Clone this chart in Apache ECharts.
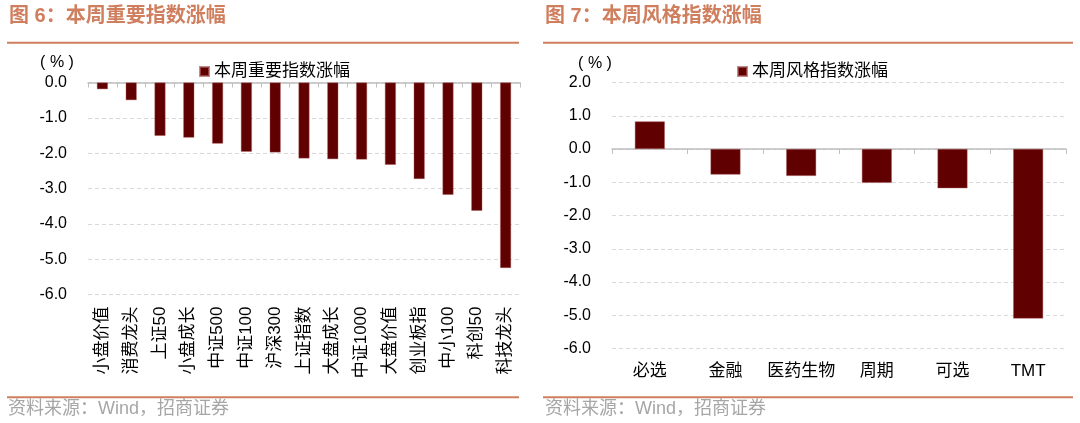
<!DOCTYPE html>
<html>
<head>
<meta charset="utf-8">
<script src="https://cdn.jsdelivr.net/npm/echarts@6/dist/echarts.min.js"></script>
<style>
html,body{margin:0;padding:0;background:#fff;}
#chart{width:1080px;height:423px;}
</style>
</head>
<body>
<div id="chart"></div>
<script>
// ---- data ----
const leftTitle = '图 6：本周重要指数涨幅';
const rightTitle = '图 7：本周风格指数涨幅';
const leftSeriesName = '本周重要指数涨幅';
const rightSeriesName = '本周风格指数涨幅';
const leftCategories = ['小盘价值','消费龙头','上证50','小盘成长','中证500','中证100','沪深300','上证指数','大盘成长','中证1000','大盘价值','创业板指','中小100','科创50','科技龙头'];
const leftValues = [-0.19,-0.50,-1.51,-1.56,-1.73,-1.96,-1.98,-2.15,-2.17,-2.18,-2.33,-2.73,-3.18,-3.63,-5.25];
const rightCategories = ['必选','金融','医药生物','周期','可选','TMT'];
const rightValues = [0.83,-0.77,-0.81,-1.02,-1.18,-5.10];
const leftAxisRange = { min: -6, max: 0, interval: 1 };
const rightAxisRange = { min: -6, max: 2, interval: 1 };
const unitLabel = '( % )';
const sourceText = '资料来源：Wind，招商证券';

// ---- styles ----
const FONT = '"Liberation Sans", Arial, "Noto Sans CJK SC", sans-serif';
const BAR = '#600000';
const ACCENT = '#CF7E5E';
const AXIS = '#BFBFBF';
const GRID = '#D9D9D9';

const chart = echarts.init(document.getElementById('chart'), null, {renderer: 'canvas'});

function yAxisCfg(grid, range) {
  return {
    type: 'value', gridIndex: grid, min: range.min, max: range.max, interval: range.interval,
    axisLine: {show: false}, axisTick: {show: false},
    axisLabel: {margin: 21, fontSize: 16, color: '#000', fontFamily: FONT, formatter: v => v.toFixed(1)},
    splitLine: {show: true, lineStyle: {color: GRID, type: [4, 3], width: 1}}
  };
}

const option = {
  animation: false,
  textStyle: {fontFamily: FONT},
  grid: [
    {left: 88, top: 82.5, width: 432, height: 212, containLabel: false},
    {left: 612, top: 82.5, width: 454, height: 266, containLabel: false}
  ],
  legend: [
    {data: [leftSeriesName], left: 199, top: 63, padding: 0, icon: 'rect', itemWidth: 9, itemHeight: 9,
     textStyle: {fontSize: 17, color: '#000', fontFamily: FONT}},
    {data: [rightSeriesName], left: 737, top: 63, padding: 0, icon: 'rect', itemWidth: 9, itemHeight: 9,
     textStyle: {fontSize: 17, color: '#000', fontFamily: FONT}}
  ],
  xAxis: [
    {type: 'category', gridIndex: 0, data: leftCategories, position: 'bottom',
     axisLine: {show: false, onZero: false}, axisTick: {show: false},
     axisLabel: {rotate: 90, margin: 12, fontSize: 17, color: '#000', fontFamily: FONT, interval: 0}},
    {type: 'category', gridIndex: 0, data: leftCategories, position: 'top',
     axisLine: {show: true, onZero: false, lineStyle: {color: AXIS, width: 1.5}},
     axisTick: {show: true, inside: true, length: 5, lineStyle: {color: AXIS}, interval: 0},
     axisLabel: {show: false}},
    {type: 'category', gridIndex: 1, data: rightCategories, position: 'bottom',
     axisLine: {show: false, onZero: false}, axisTick: {show: false},
     axisLabel: {margin: 14, fontSize: 17, color: '#000', fontFamily: FONT, interval: 0}},
    {type: 'category', gridIndex: 1, data: rightCategories, position: 'top',
     axisLine: {show: true, onZero: true, lineStyle: {color: AXIS, width: 1.5}},
     axisTick: {show: true, inside: true, length: 5, lineStyle: {color: AXIS}, interval: 0},
     axisLabel: {show: false}}
  ],
  yAxis: [yAxisCfg(0, leftAxisRange), yAxisCfg(1, rightAxisRange)],
  series: [
    {name: leftSeriesName, type: 'bar', xAxisIndex: 0, yAxisIndex: 0, data: leftValues, barWidth: 11,
     itemStyle: {color: BAR, borderColor: 'rgba(170,90,90,0.7)', borderWidth: 0.6}},
    {name: rightSeriesName, type: 'bar', xAxisIndex: 2, yAxisIndex: 1, data: rightValues, barWidth: 30,
     itemStyle: {color: BAR, borderColor: 'rgba(170,90,90,0.7)', borderWidth: 0.6}}
  ],
  graphic: [
    {type: 'text', x: 9, y: 16, style: {text: leftTitle, fill: ACCENT, font: 'bold 20px ' + FONT, textAlign: 'left', textVerticalAlign: 'middle'}},
    {type: 'text', x: 545, y: 16, style: {text: rightTitle, fill: ACCENT, font: 'bold 20px ' + FONT, textAlign: 'left', textVerticalAlign: 'middle'}},
    {type: 'line', shape: {x1: 7, y1: 42.7, x2: 519, y2: 42.7}, style: {stroke: ACCENT, lineWidth: 2}},
    {type: 'line', shape: {x1: 543, y1: 42.7, x2: 1073, y2: 42.7}, style: {stroke: ACCENT, lineWidth: 2}},
    {type: 'line', shape: {x1: 7, y1: 397.3, x2: 519, y2: 397.3}, style: {stroke: ACCENT, lineWidth: 2}},
    {type: 'line', shape: {x1: 543, y1: 397.3, x2: 1073, y2: 397.3}, style: {stroke: ACCENT, lineWidth: 2}},
    {type: 'text', x: 57, y: 63, style: {text: unitLabel, fill: '#000', font: '16px ' + FONT, textAlign: 'center', textVerticalAlign: 'middle'}},
    {type: 'text', x: 595, y: 64, style: {text: unitLabel, fill: '#000', font: '16px ' + FONT, textAlign: 'center', textVerticalAlign: 'middle'}},
    {type: 'text', x: 8, y: 409, style: {text: sourceText, fill: '#A6A6A6', font: '18px ' + FONT, textAlign: 'left', textVerticalAlign: 'middle'}},
    {type: 'text', x: 545, y: 409, style: {text: sourceText, fill: '#A6A6A6', font: '18px ' + FONT, textAlign: 'left', textVerticalAlign: 'middle'}}
  ]
};
chart.setOption(option);
</script>
</body>
</html>
